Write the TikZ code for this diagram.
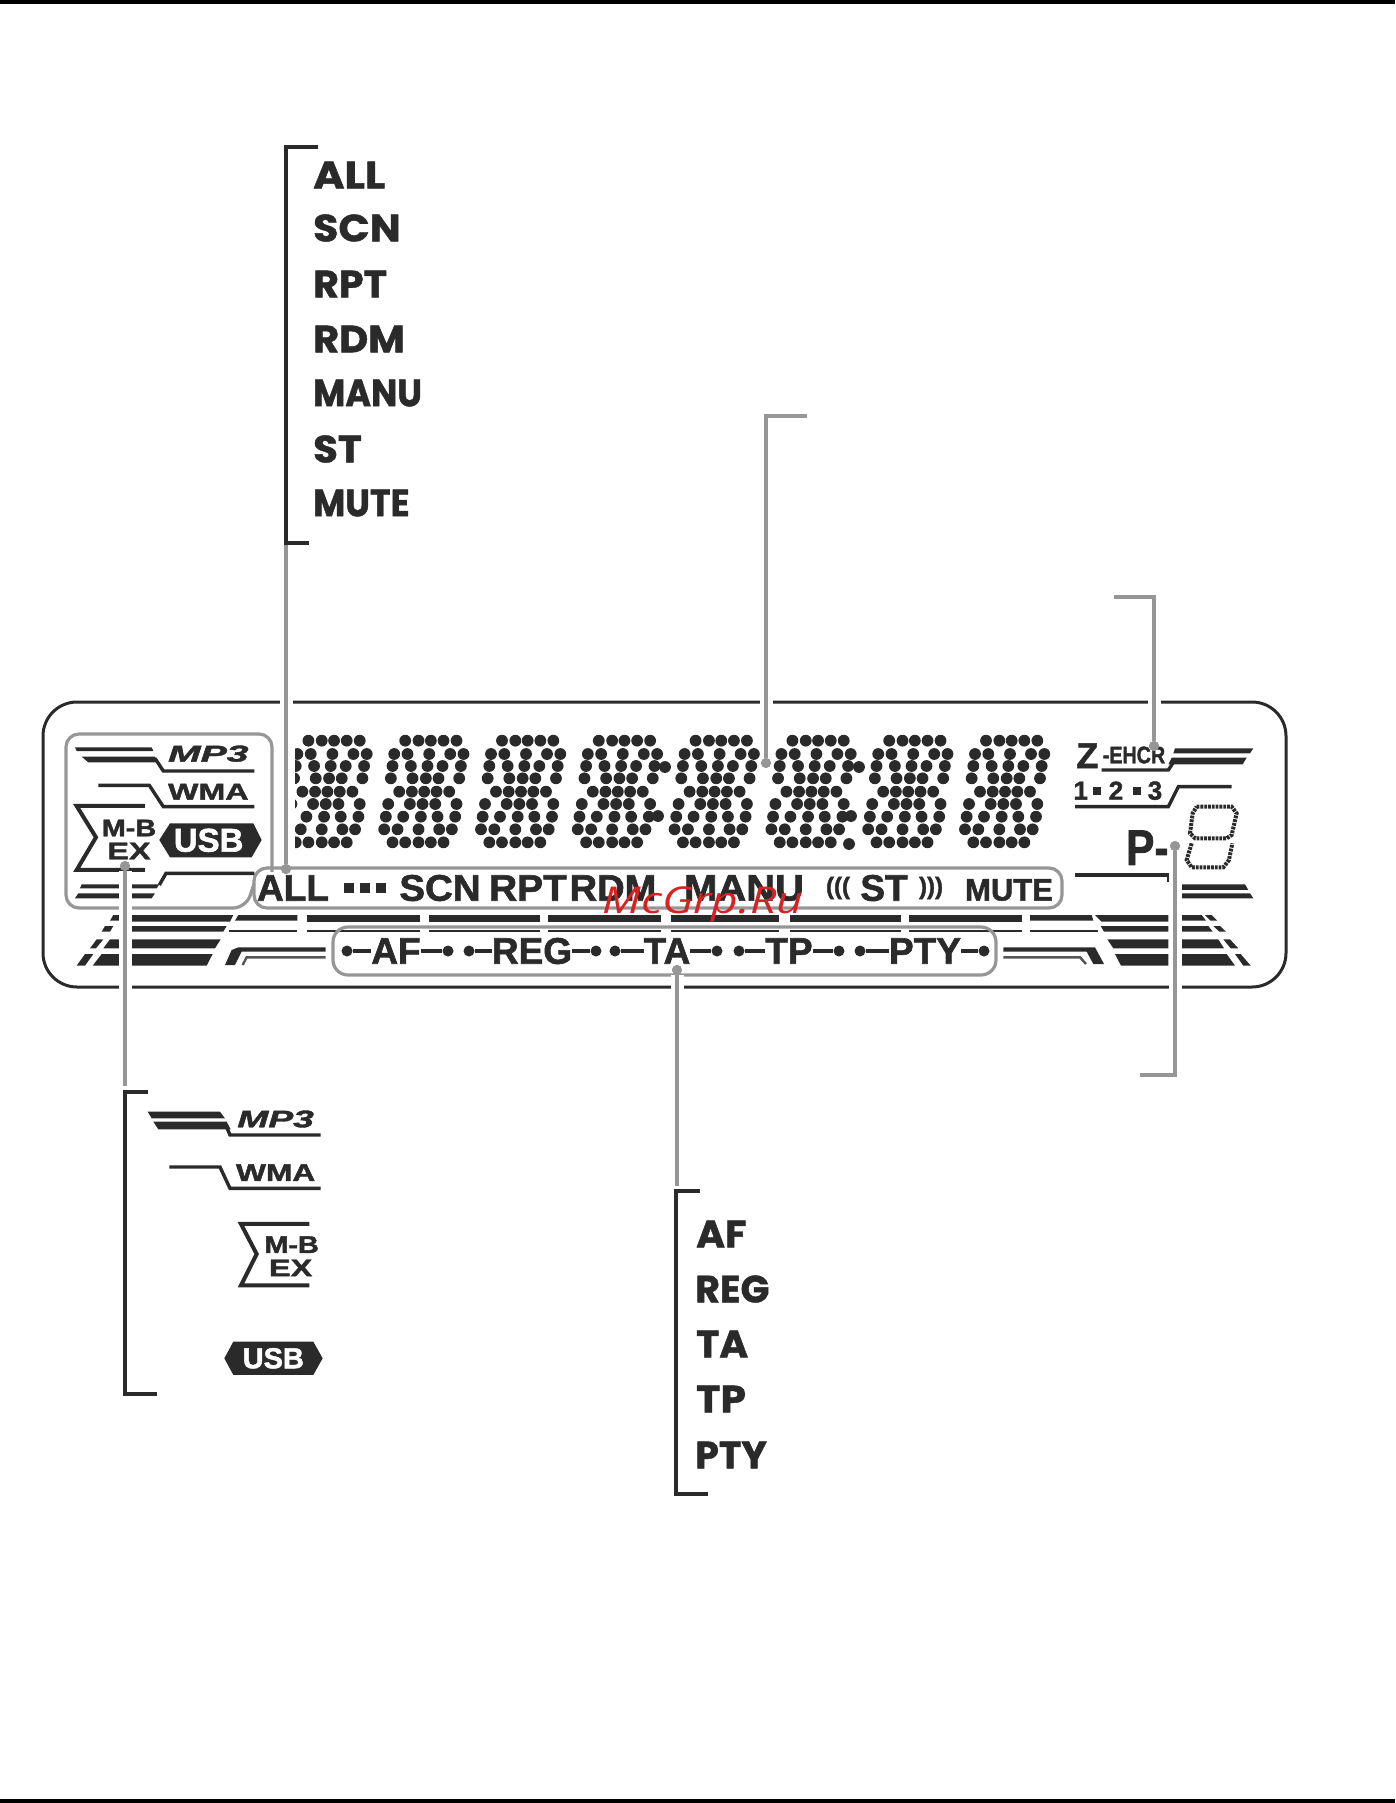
\documentclass[tikz,border=0pt]{standalone}
\usepackage{fontspec}
\setmainfont{Liberation Sans}[BoldFeatures={FakeBold=1.6}, BoldItalicFeatures={FakeBold=1.6}]
\newfontfamily\listfont{Poppins}[BoldFeatures={FakeBold=1.2}]
\newfontfamily\markfont{Open Sans}
\definecolor{ink}{HTML}{2A2A2A}
\definecolor{lead}{HTML}{969696}
\definecolor{mark}{HTML}{D62222}
\tikzstyle{word} = [inner sep=0pt, text=ink, font=\fontsize{37}{40}\selectfont\bfseries]
\tikzstyle{item} = [inner sep=0pt, anchor=west, text=ink, font=\fontsize{38}{40}\selectfont\listfont\bfseries]
\tikzstyle{tiny} = [inner sep=0pt, text=ink, font=\fontsize{24}{26}\selectfont\bfseries]
\tikzstyle{wide} = [inner sep=0pt, text=ink, font=\fontsize{23}{26}\selectfont\bfseries]
\tikzstyle{chip} = [inner sep=0pt, text=white, font=\fontsize{33}{36}\selectfont\bfseries]
\tikzstyle{knob} = [circle, fill=ink, inner sep=0pt, minimum size=11pt]
\tikzstyle{tip} = [circle, fill=lead, inner sep=0pt, minimum size=10pt]
\tikzstyle{sq} = [rectangle, fill=ink, inner sep=0pt, minimum size=8pt]
\tikzset{
  crop/.style 2 args = {shift={(#1,#2)}, x=.3333pt, y=-.3333pt},
  rule/.style = {draw=ink, line width=3.4pt},
  bracket/.style = {draw=ink, line width=3.4pt, miter limit=10},
  frame/.style = {draw=lead, line width=3.2pt, rounded corners=13pt},
  halo/.style = {draw=white, line width=13pt},
  leader/.style = {draw=lead, line width=3.6pt},
  segdot/.style = {draw=ink, line width=4pt, dash pattern=on 2.8pt off 1pt},
  stem/.style = {draw=ink, line width=3.2pt},
}

\begin{document}
\begin{tikzpicture}[x=1pt, y=-1pt]
  \useasboundingbox (0,0) rectangle (1395,1803);
  \fill[black] (0,0) rectangle (1395,4);
  \fill[black] (0,1799) rectangle (1395,1803);

  % panel
  \draw[ink, line width=3pt, rounded corners=34pt] (43,702) rectangle (1286,987);

  % stripes, left
  \begin{scope}[crop={60}{900}]
    \fill[ink] (215,45) -- (520,45) -- (510,65) -- (215,65) -- cycle;
    \fill[ink] (215,78) -- (500,78) -- (490,95) -- (215,95) -- cycle;
    \fill[ink] (215,118) -- (482,118) -- (465,145) -- (215,145) -- cycle;
    \fill[ink] (215,162) -- (458,162) -- (440,197) -- (215,197) -- cycle;
    \fill[ink] (160,45) -- (178,45) -- (178,62) -- (150,62) -- cycle;
    \fill[ink] (135,78) -- (160,78) -- (150,95) -- (125,95) -- cycle;
    \fill[ink] (110,118) -- (130,118) -- (108,145) -- (90,145) -- cycle;
    \fill[ink] (150,118) -- (178,118) -- (178,145) -- (130,145) -- cycle;
    \fill[ink] (75,162) -- (100,162) -- (75,197) -- (50,197) -- cycle;
    \fill[ink] (125,162) -- (178,162) -- (178,197) -- (98,197) -- cycle;
    \fill[ink] (535,45) -- (712,45) -- (712,62) -- (525,62) -- cycle;
    \draw[ink, line width=2.6pt] (508,93) -- (712,93);
    \fill[ink] (495,195) -- (515,150) -- (535,142) -- (797,142) -- (797,155) -- (545,155) -- (525,195) -- cycle;
    \draw[ink!80, line width=2.4pt] (548,195) -- (560,172) -- (797,172);
  \end{scope}

  % stripes, right
  \begin{scope}[crop={980}{900}]
    \fill[ink] (150,45) -- (335,45) -- (340,62) -- (150,62) -- cycle;
    \draw[ink, line width=2.6pt] (150,93) -- (355,93);
    \fill[ink] (345,45) -- (565,45) -- (565,65) -- (365,65) -- cycle;
    \fill[ink] (362,78) -- (565,78) -- (565,95) -- (372,95) -- cycle;
    \fill[ink] (382,118) -- (565,118) -- (565,145) -- (400,145) -- cycle;
    \fill[ink] (405,162) -- (565,162) -- (565,197) -- (423,197) -- cycle;
    \fill[ink] (605,45) -- (665,45) -- (678,62) -- (605,62) -- cycle;
    \fill[ink] (675,45) -- (695,45) -- (712,62) -- (692,62) -- cycle;
    \fill[ink] (605,78) -- (685,78) -- (698,95) -- (605,95) -- cycle;
    \fill[ink] (700,78) -- (720,78) -- (738,95) -- (718,95) -- cycle;
    \fill[ink] (605,118) -- (715,118) -- (732,145) -- (605,145) -- cycle;
    \fill[ink] (730,118) -- (750,118) -- (775,145) -- (752,145) -- cycle;
    \fill[ink] (605,162) -- (740,162) -- (765,197) -- (605,197) -- cycle;
    \fill[ink] (765,162) -- (782,162) -- (812,197) -- (790,197) -- cycle;
    \fill[ink] (70,142) -- (345,142) -- (372,192) -- (340,192) -- (320,155) -- (70,155) -- cycle;
    \draw[ink!80, line width=2.4pt] (70,172) -- (300,172) -- (318,192);
  \end{scope}

  % long bars over the lower row
  \foreach \xa/\xb in {307/420, 429/540, 548/661, 671/779, 790/901, 909/1022} {
    \fill[ink] (\xa,915) rectangle (\xb,922);
    \draw[ink, line width=2.6pt] (\xa,931) -- (\xb,931);
  }

  % grey frames
  \draw[frame] (272,872) -- (272,734) -- (66,734) -- (66,908) -- (246,908) -- (254,884);
  \draw[frame] (254,868) rectangle (1062,908);
  \draw[frame, rounded corners=15pt] (333,927) rectangle (996,975);

  % dot matrix
  \begin{scope}
    \clip (295,720) rectangle (1100,860);
    \foreach \ox in {0,...,7} {
      \foreach \ry/\cols in {47/{78,118,155,193,232}, 87/{45,85,150,213,253},
                             123/{40,95,145,190,245}, 160/{35,100,140,178,240},
                             200/{60,98,135,172,210}, 237/{27,92,130,168,232},
                             275/{20,72,125,175,228}, 313/{15,55,118,180,218},
                             352/{40,78,118,155,193}} {
        \foreach \cx in \cols {
          \fill[ink] (960-\ox*96.8+\cx/3, 725+\ry/3) circle (5.9pt);
        }
      }
    }
  \end{scope}
  \foreach \cx/\cy in {665/767, 658/816, 859/767, 851/816, 849/844} {
    \fill[ink] (\cx,\cy) circle (5.9pt);
  }

  % left icons in the panel
  \begin{scope}[crop={60}{725}]
    \fill[ink] (45,67) -- (275,67) -- (280,78) -- (50,78) -- cycle;
    \fill[ink] (65,95) -- (285,95) -- (295,112) -- (85,112) -- cycle;
    \draw[rule] (285,100) -- (310,138) -- (583,138);
    \node[wide] (mp3) at (445,86) {\itshape\scalebox{1.7}[1]{MP3}};
    \draw[rule] (115,181) -- (268,181) -- (310,245) -- (583,245);
    \node[wide] (wma) at (445,200) {\scalebox{1.4}[1]{WMA}};
    \draw[rule, line width=4pt] (255,243) -- (50,243) -- (108,337) -- (50,435) -- (255,435);
    \node[tiny] (mb) at (207,309) {\scalebox{1.2}[1]{M-B}};
    \node[tiny] (ex) at (207,378) {\scalebox{1.35}[1]{EX}};
    \fill[ink] (298,345) -- (330,295) -- (580,295) -- (605,345) -- (575,397) -- (330,397) -- cycle;
    \node[chip] (usb) at (446,346) {USB};
    \draw[rule] (583,445) -- (318,445) -- (298,480);
    \fill[ink] (65,478) -- (298,478) -- (290,490) -- (60,490) -- cycle;
    \fill[ink] (55,505) -- (285,505) -- (275,520) -- (45,520) -- cycle;
  \end{scope}

  % right icons in the panel
  \begin{scope}[crop={1060}{725}]
    \node[word, font=\fontsize{36}{36}\selectfont\bfseries] (zed) at (82,92) {Z};
    \node[tiny] (ehcr) at (222,90) {\scalebox{.82}[1]{-EHCR}};
    \draw[rule] (125,135) -- (325,135) -- (345,105);
    \fill[ink] (345,70) -- (580,70) -- (570,85) -- (340,85) -- cycle;
    \fill[ink] (335,98) -- (560,98) -- (548,118) -- (325,118) -- cycle;
    \node[tiny, font=\fontsize{26}{28}\selectfont\bfseries] (one) at (62,197) {1};
    \node[sq] (sa) at (112,197) {};
    \node[tiny, font=\fontsize{26}{28}\selectfont\bfseries] (two) at (168,197) {2};
    \node[sq] (sb) at (230,197) {};
    \node[tiny, font=\fontsize{26}{28}\selectfont\bfseries] (three) at (285,197) {3};
    \draw[rule] (45,245) -- (325,245) -- (355,185) -- (515,185);
    \node[word, font=\fontsize{50}{52}\selectfont\bfseries] (pre) at (262,368) {\scalebox{.85}[1]{P-}};
    \draw[segdot] (410,245) -- (515,245) -- (530,265) -- (515,330) -- (500,340) -- (405,340) -- (390,325) -- (398,265) -- cycle;
    \draw[segdot] (395,355) -- (380,405) -- (395,427) -- (490,427) -- (507,405) -- (517,355);
    \draw[rule] (45,450) -- (325,450) -- (325,472);
    \fill[ink] (365,478) -- (555,478) -- (565,495) -- (365,495) -- cycle;
    \fill[ink] (365,505) -- (570,505) -- (580,520) -- (365,520) -- cycle;
  \end{scope}

  % middle row
  \node[word] (w1) at (293,888) {ALL};
  \node[sq, minimum size=10pt] (q1) at (349,888) {};
  \node[sq, minimum size=10pt] (q2) at (365,888) {};
  \node[sq, minimum size=10pt] (q3) at (381,888) {};
  \node[word] (w2) at (440,888) {\scalebox{1.04}[1]{SCN}};
  \node[word] (w3) at (528,888) {\scalebox{1.05}[1]{RPT}};
  \node[word] (w4) at (613,888) {\scalebox{1.03}[1]{RDM}};
  \node[word] (w5) at (744,888) {\scalebox{1.08}[1]{MANU}};
  \node[tiny] (c1) at (838,888) {(((};
  \node[word] (w6) at (884,888) {ST};
  \node[tiny] (c2) at (931,888) {)))};
  \node[word, font=\fontsize{31}{33}\selectfont\bfseries] (w7) at (1009,890) {MUTE};

  % lower row
  \node[word] (af) at (396,951) {AF};
  \node[word] (reg) at (532,951) {REG};
  \node[word] (ta) at (667,951) {TA};
  \node[word] (tp) at (789,951) {TP};
  \node[word] (pty) at (925,951) {PTY};
  \node[knob] (d1) at (347,951) {};
  \node[knob] (d2) at (448,951) {};
  \node[knob] (d3) at (469,951) {};
  \node[knob] (d4) at (596,951) {};
  \node[knob] (d5) at (615,951) {};
  \node[knob] (d6) at (717,951) {};
  \node[knob] (d7) at (739,951) {};
  \node[knob] (d8) at (839,951) {};
  \node[knob] (d9) at (860,951) {};
  \node[knob] (d10) at (984,951) {};
  \draw[stem] (d1) -- (af);
  \draw[stem] (af) -- (d2);
  \draw[stem] (d3) -- (reg);
  \draw[stem] (reg) -- (d4);
  \draw[stem] (d5) -- (ta);
  \draw[stem] (ta) -- (d6);
  \draw[stem] (d7) -- (tp);
  \draw[stem] (tp) -- (d8);
  \draw[stem] (d9) -- (pty);
  \draw[stem] (pty) -- (d10);

  % list, top left
  \node[item] (k1) at (313,175) {\scalebox{1.12}[1]{ALL}};
  \node[item] (k2) at (313,228) {\scalebox{1.08}[1]{SCN}};
  \node[item] (k3) at (313,284) {\scalebox{1.04}[1]{RPT}};
  \node[item] (k4) at (313,339) {\scalebox{1.05}[1]{RDM}};
  \node[item] (k5) at (313,393) {\scalebox{.92}[1]{MANU}};
  \node[item] (k6) at (313,449) {\scalebox{1.06}[1]{ST}};
  \node[item] (k7) at (313,503) {\scalebox{.92}[1]{MUTE}};

  % list, bottom
  \node[item] (n1) at (696,1234) {\scalebox{1.03}[1]{AF}};
  \node[item] (n2) at (695,1289) {REG};
  \node[item] (n3) at (696,1344) {\scalebox{1.03}[1]{TA}};
  \node[item] (n4) at (696,1399) {\scalebox{1.08}[1]{TP}};
  \node[item] (n5) at (695,1455) {PTY};

  % legend icons
  \begin{scope}[crop={110}{1070}]
    \fill[ink] (113,125) -- (330,125) -- (345,145) -- (125,145) -- cycle;
    \fill[ink] (130,155) -- (350,155) -- (362,178) -- (145,178) -- cycle;
    \draw[rule] (345,160) -- (360,195) -- (632,195);
    \node[tiny] (lmp3) at (497,147) {\itshape\scalebox{1.55}[1]{MP3}};
    \draw[rule] (178,291) -- (330,291) -- (360,355) -- (632,355);
    \node[tiny] (lwma) at (497,308) {\scalebox{1.32}[1]{WMA}};
    \draw[rule, line width=4pt] (598,462) -- (393,462) -- (440,552) -- (393,646) -- (598,646);
    \node[tiny] (lmb) at (545,524) {\scalebox{1.2}[1]{M-B}};
    \node[tiny] (lex) at (542,594) {\scalebox{1.35}[1]{EX}};
    \fill[ink] (343,865) -- (370,815) -- (610,815) -- (638,865) -- (610,915) -- (370,915) -- cycle;
    \node[chip, font=\fontsize{29}{30}\selectfont\bfseries] (lusb) at (490,865) {USB};
  \end{scope}

  % tips
  \node[tip] (t1) at (286,869) {};
  \node[tip] (t2) at (766,763) {};
  \node[tip] (t3) at (1154,746) {};
  \node[tip] (t4) at (1175,846) {};
  \node[tip] (t5) at (677,970) {};
  \node[tip] (t6) at (125,866) {};

  % bracket corners
  \coordinate (a1) at (318,147);
  \coordinate (a2) at (286,147);
  \coordinate (a3) at (286,543);
  \coordinate (a4) at (309,543);
  \coordinate (b1) at (807,416);
  \coordinate (b2) at (766,416);
  \coordinate (c1) at (1114,597);
  \coordinate (c2) at (1154,597);
  \coordinate (e1) at (1140,1075);
  \coordinate (e2) at (1175,1075);
  \coordinate (f1) at (700,1191);
  \coordinate (f2) at (676,1191);
  \coordinate (f3) at (676,1494);
  \coordinate (f4) at (708,1494);
  \coordinate (f5) at (677,1186);
  \coordinate (g1) at (148,1092);
  \coordinate (g2) at (125,1092);
  \coordinate (g3) at (125,1394);
  \coordinate (g4) at (157,1394);
  \coordinate (g5) at (125,1086);

  % leader lines
  \draw[halo] (t1) -- (a3);
  \draw[halo] (t2) -- (b2);
  \draw[halo] (t3) -- (c2);
  \draw[halo] (t4) -- (e2);
  \draw[halo] (t5) -- (f5);
  \draw[halo] (t6) -- (g5);
  \draw[leader] (a3) -- (t1);
  \draw[leader] (b1) -- (b2) -- (t2);
  \draw[leader] (c1) -- (c2) -- (t3);
  \draw[leader] (t4) -- (e2) -- (e1);
  \draw[leader] (t5) -- (f5);
  \draw[leader] (t6) -- (g5);
  \node[tip] (t1b) at (t1) {};
  \node[tip] (t2b) at (t2) {};
  \node[tip] (t3b) at (t3) {};
  \node[tip] (t4b) at (t4) {};
  \node[tip] (t5b) at (t5) {};
  \node[tip] (t6b) at (t6) {};

  % brackets
  \draw[bracket] (a1) -- (a2) -- (a3) -- (a4);
  \draw[bracket] (f1) -- (f2) -- (f3) -- (f4);
  \draw[bracket] (g1) -- (g2) -- (g3) -- (g4);

  % stamp
  \node[inner sep=0pt, text=mark, font=\fontsize{37}{40}\selectfont\markfont\itshape] (stamp) at (703,905) {\scalebox{1.25}[1]{McGrp.Ru}};
\end{tikzpicture}
\end{document}
